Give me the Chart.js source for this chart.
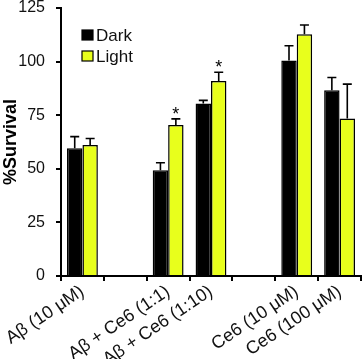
<!DOCTYPE html>
<html>
<head>
<meta charset="utf-8">
<script src="https://cdn.jsdelivr.net/npm/chart.js@4/dist/chart.umd.min.js"></script>
<style>
  html, body { margin: 0; padding: 0; background: #fff; }
  #wrap { width: 363px; height: 359px; position: relative; }
</style>
</head>
<body>
<div id="wrap"><canvas id="c"></canvas></div>
<script>
const categories = ['Aβ (10 μM)', '', 'Aβ + Ce6 (1:1)', 'Aβ + Ce6 (1:10)', '', 'Ce6 (10 μM)', 'Ce6 (100 μM)'];
const seriesNames = ['Dark', 'Light'];
const darkValues = [59.6, null, 49.3, 80.4, null, 100.5, 86.6];
const lightValues = [61.1, null, 70.4, 91.0, null, 112.8, 73.5];
const darkErrors = [5.4, null, 3.5, 1.5, null, 6.9, 6.0];
const lightErrors = [3.0, null, 2.9, 4.0, null, 4.3, 16.0];
const significance = ['', '', '*', '*', '', '', ''];
const yTicks = [0, 25, 50, 75, 100, 125];

const DARK = '#000000';
const LIGHT = '#e8ff1c';
const FONT = "'Liberation Sans', Arial, sans-serif";

const errorBars = {
  id: 'errorBars',
  afterDatasetsDraw(chart) {
    const ctx = chart.ctx;
    const y = chart.scales.y;
    const errs = [darkErrors, lightErrors];
    ctx.save();
    ctx.strokeStyle = '#000';
    ctx.lineWidth = 1.6;
    chart.data.datasets.forEach((ds, di) => {
      const meta = chart.getDatasetMeta(di);
      meta.data.forEach((bar, i) => {
        const v = ds.data[i];
        const e = errs[di][i];
        if (v == null || e == null) return;
        const x = bar.x;
        const y0 = y.getPixelForValue(v);
        const y1 = y.getPixelForValue(v + e);
        ctx.beginPath();
        ctx.moveTo(x, y0);
        ctx.lineTo(x, y1);
        ctx.moveTo(x - 4.5, y1);
        ctx.lineTo(x + 4.5, y1);
        ctx.stroke();
        if (di === 1 && significance[i]) {
          ctx.fillStyle = '#000';
          ctx.font = '18px ' + FONT;
          ctx.textAlign = 'center';
          ctx.textBaseline = 'alphabetic';
          ctx.fillText(significance[i], x, y1 + 1);
        }
      });
    });
    ctx.restore();
  }
};

const customLegend = {
  id: 'customLegend',
  afterDraw(chart) {
    const ctx = chart.ctx;
    const a = chart.chartArea;
    ctx.save();
    chart.data.datasets.forEach((ds, i) => {
      const bx = a.left + 21;
      const by = a.top + 22 + i * 21;
      ctx.fillStyle = ds.backgroundColor;
      ctx.fillRect(bx, by, 11, 10);
      ctx.strokeStyle = '#000';
      ctx.lineWidth = 1.2;
      ctx.strokeRect(bx, by, 11, 10);
      ctx.fillStyle = '#111';
      ctx.font = '17px ' + FONT;
      ctx.textAlign = 'left';
      ctx.textBaseline = 'alphabetic';
      ctx.fillText(ds.label, bx + 14, by + 10.5);
    });
    ctx.restore();
  }
};

new Chart(document.getElementById('c'), {
  type: 'bar',
  data: {
    labels: categories,
    datasets: [
      { label: seriesNames[0], data: darkValues, backgroundColor: DARK, borderColor: '#000', borderWidth: 1.5 },
      { label: seriesNames[1], data: lightValues, backgroundColor: LIGHT, borderColor: '#000', borderWidth: 1.5 }
    ]
  },
  options: {
    responsive: true,
    maintainAspectRatio: false,
    animation: false,
    layout: { padding: { top: 8, right: 2, left: 0, bottom: 0 } },
    plugins: { legend: { display: false }, tooltip: { enabled: false } },
    datasets: { bar: { categoryPercentage: 0.72, barPercentage: 1.0 } },
    scales: {
      x: {
        grid: { display: true, drawOnChartArea: false, drawTicks: true, tickLength: 5, color: '#000', lineWidth: 2, offset: true },
        border: { display: true, color: '#000', width: 2 },
        ticks: { color: '#111', font: { size: 18, family: FONT }, minRotation: 34, maxRotation: 34, autoSkip: false, padding: 0 },
        afterFit(s) { s.height = 83; s.paddingLeft = 0; s.paddingRight = 0; }
      },
      y: {
        min: 0, max: 125,
        afterBuildTicks(s) { s.ticks = yTicks.map(v => ({ value: v })); },
        grid: { display: true, drawOnChartArea: false, drawTicks: true, tickLength: 5, color: '#000', lineWidth: 2 },
        border: { display: true, color: '#000', width: 2 },
        ticks: { color: '#111', font: { size: 16, family: FONT, lineHeight: 1.0 }, padding: 11 },
        title: { display: true, text: '%Survival', color: '#000', font: { size: 18, weight: 'bold', family: FONT }, padding: { top: 0, bottom: 0 } },
        afterFit(s) { s.width = 61; s.paddingTop = 0; s.paddingBottom = 0; }
      }
    }
  },
  plugins: [errorBars, customLegend]
});
</script>
</body>
</html>
